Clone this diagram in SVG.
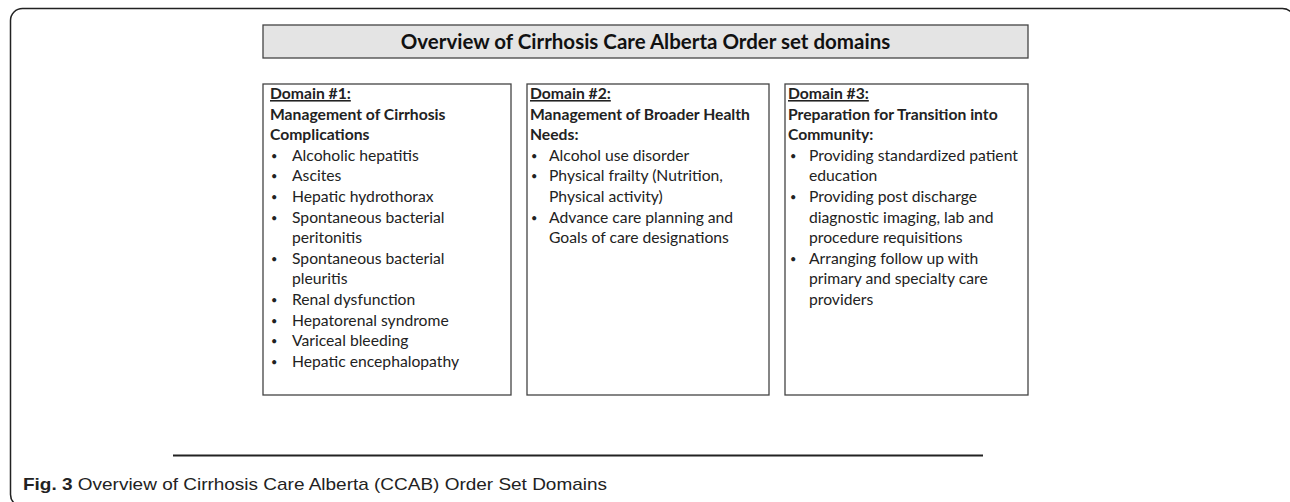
<svg xmlns="http://www.w3.org/2000/svg" width="1290" height="502" viewBox="0 0 1290 502">
<style>
.frame{fill:none;stroke:#222;stroke-width:1.5}
.box{fill:#fff;stroke:#444;stroke-width:1.3}
.tbox{fill:#e4e4e4;stroke:#444;stroke-width:1.3}
.t{font-family:Lato,"Liberation Sans",sans-serif;font-size:15.7px;fill:#222}
.bl{font-size:11px}
.b{font-weight:bold}
.title{font-family:Lato,"Liberation Sans",sans-serif;font-size:20.5px;font-weight:bold;fill:#111}
.cap{font-family:"Liberation Sans",sans-serif;font-size:17px;fill:#222}
</style>
<rect class="frame" x="10.5" y="8.5" width="1284" height="498" rx="12"/>
<g id="title">
<rect class="tbox" x="263" y="25" width="765" height="33"/>
<text class="title" x="645.5" y="48.5" text-anchor="middle">Overview of Cirrhosis Care Alberta Order set domains</text>
</g>
<g id="domain1">
<rect class="box" x="263" y="84" width="248" height="311"/>
<text class="t b" x="270" y="99" text-decoration="underline">Domain #1:</text>
<text class="t b" x="270" y="119.6">Management of Cirrhosis</text>
<text class="t b" x="270" y="140.2">Complications</text>
<g class="t">
<text class="bl" x="271" y="159.8">•</text><text x="292" y="160.8">Alcoholic hepatitis</text>
<text class="bl" x="271" y="180.4">•</text><text x="292" y="181.4">Ascites</text>
<text class="bl" x="271" y="201">•</text><text x="292" y="202">Hepatic hydrothorax</text>
<text class="bl" x="271" y="221.6">•</text><text x="292" y="222.6">Spontaneous bacterial</text>
<text x="292" y="243.2">peritonitis</text>
<text class="bl" x="271" y="262.8">•</text><text x="292" y="263.8">Spontaneous bacterial</text>
<text x="292" y="284.4">pleuritis</text>
<text class="bl" x="271" y="304">•</text><text x="292" y="305">Renal dysfunction</text>
<text class="bl" x="271" y="324.6">•</text><text x="292" y="325.6">Hepatorenal syndrome</text>
<text class="bl" x="271" y="345.2">•</text><text x="292" y="346.2">Variceal bleeding</text>
<text class="bl" x="271" y="365.8">•</text><text x="292" y="366.8">Hepatic encephalopathy</text>
</g>
</g>
<g id="domain2">
<rect class="box" x="527" y="84" width="242" height="311"/>
<text class="t b" x="530" y="99" text-decoration="underline">Domain #2:</text>
<text class="t b" x="530" y="119.6">Management of Broader Health</text>
<text class="t b" x="530" y="140.2">Needs:</text>
<g class="t">
<text class="bl" x="531" y="159.8">•</text><text x="549" y="160.8">Alcohol use disorder</text>
<text class="bl" x="531" y="180.4">•</text><text x="549" y="181.4">Physical frailty (Nutrition,</text>
<text x="549" y="202">Physical activity)</text>
<text class="bl" x="531" y="221.6">•</text><text x="549" y="222.6">Advance care planning and</text>
<text x="549" y="243.2">Goals of care designations</text>
</g>
</g>
<g id="domain3">
<rect class="box" x="785" y="84" width="243" height="311"/>
<text class="t b" x="788" y="99" text-decoration="underline">Domain #3:</text>
<text class="t b" x="788" y="119.6">Preparation for Transition into</text>
<text class="t b" x="788" y="140.2">Community:</text>
<g class="t">
<text class="bl" x="790" y="159.8">•</text><text x="809" y="160.8">Providing standardized patient</text>
<text x="809" y="181.4">education</text>
<text class="bl" x="790" y="201">•</text><text x="809" y="202">Providing post discharge</text>
<text x="809" y="222.6">diagnostic imaging, lab and</text>
<text x="809" y="243.2">procedure requisitions</text>
<text class="bl" x="790" y="262.8">•</text><text x="809" y="263.8">Arranging follow up with</text>
<text x="809" y="284.4">primary and specialty care</text>
<text x="809" y="305">providers</text>
</g>
</g>
<g id="connectors"></g>
<line x1="173" y1="455.5" x2="983" y2="455.5" stroke="#222" stroke-width="2"/>
<text class="cap" x="23" y="490" textLength="584" lengthAdjust="spacingAndGlyphs"><tspan font-weight="bold">Fig. 3</tspan> Overview of Cirrhosis Care Alberta (CCAB) Order Set Domains</text>
</svg>
